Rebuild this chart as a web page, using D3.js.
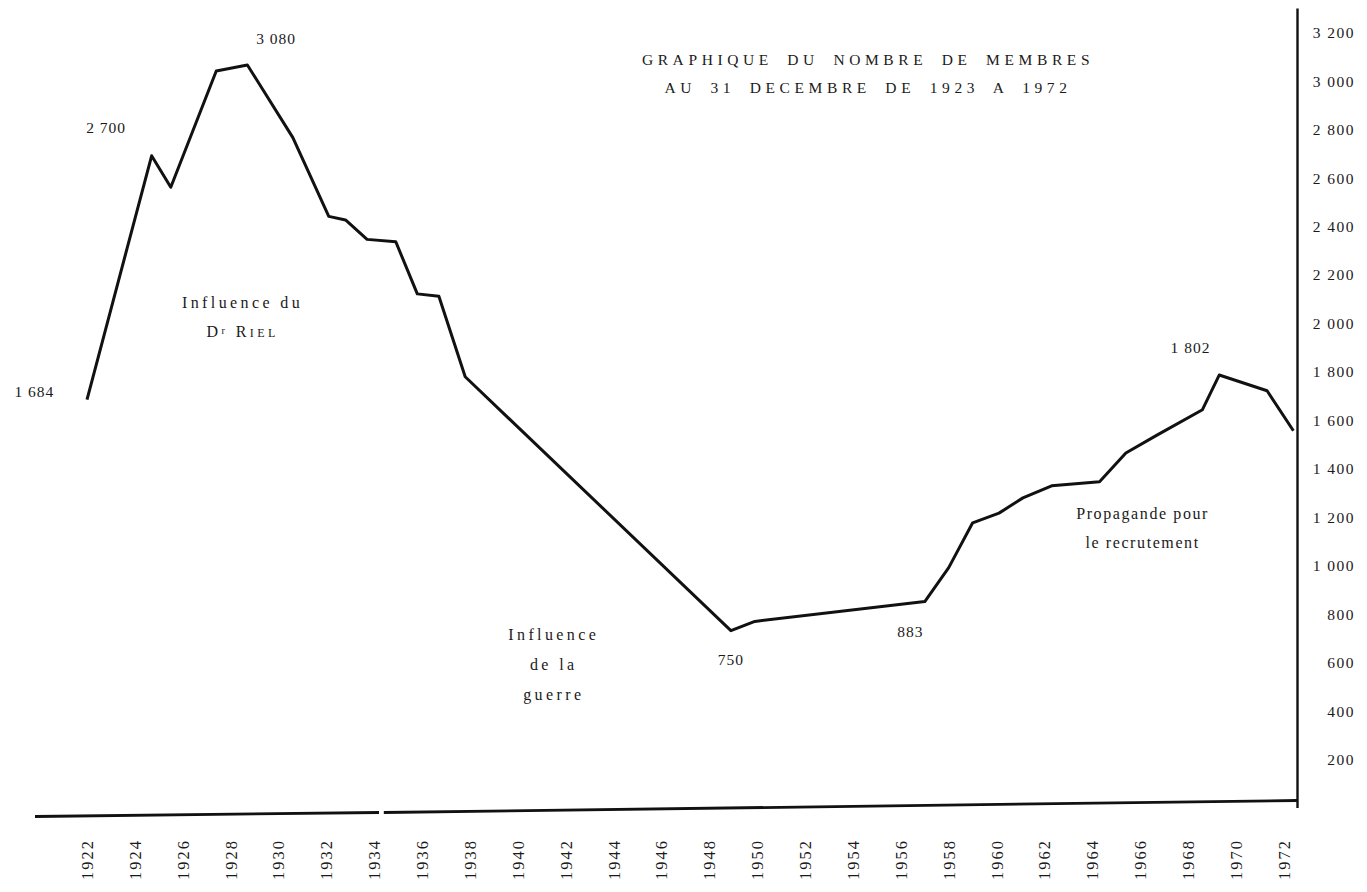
<!DOCTYPE html>
<html lang="fr">
<head>
<meta charset="utf-8">
<title>Graphique du nombre de membres 1923-1972</title>
<script src="https://d3js.org/d3.v7.min.js"></script>
<style>
  html, body { margin: 0; padding: 0; background: #fff; }
  svg { display: block; }
  text { font-family: "Liberation Serif", "DejaVu Serif", serif; fill: #1a1a1a; }
  .tick-y { font-size: 15.5px; letter-spacing: 1.5px; }
  .tick-x { font-size: 16.5px; letter-spacing: 2px; }
  .title { font-size: 15.5px; letter-spacing: 4.6px; word-spacing: 6px; }
  .note { font-size: 16px; letter-spacing: 1.6px; }
  .note.wide { letter-spacing: 3.4px; }
  .val { font-size: 15.5px; letter-spacing: 1px; }
</style>
</head>
<body>
<script>
// years (points are plotted between the year ticks)
var years = [1922.0, 1924.7, 1925.5, 1927.4, 1928.7, 1930.6, 1932.1, 1932.8, 1933.7, 1934.9,
             1935.8, 1936.7, 1937.8, 1948.9, 1949.9, 1957.0, 1958.0, 1959.0, 1960.1, 1961.1,
             1962.3, 1964.3, 1965.4, 1966.7, 1968.6, 1969.3, 1971.3, 1972.4];
// members at 31 December
var members = [1684, 2690, 2560, 3040, 3065, 2765, 2440, 2425, 2345, 2335,
               2120, 2110, 1778, 730, 768, 850, 990, 1175, 1215, 1278,
               1328, 1345, 1463, 1537, 1642, 1785, 1720, 1555];

var xTicks = [1922, 1924, 1926, 1928, 1930, 1932, 1934, 1936, 1938, 1940, 1942, 1944, 1946,
              1948, 1950, 1952, 1954, 1956, 1958, 1960, 1962, 1964, 1966, 1968, 1970, 1972];
var yTicks = [200, 400, 600, 800, 1000, 1200, 1400, 1600, 1800, 2000, 2200, 2400, 2600, 2800, 3000, 3200];

// labelled values on the curve
var valueLabels = [
  {year: 1919.8, value: 1684, txt: '1 684', dy: -3},
  {year: 1922.8, value: 2700, txt: '2 700', dy: -20},
  {year: 1929.9, value: 3080, txt: '3 080', dy: -17},
  {year: 1948.9, value: 750,  txt: '750',  dy: 39},
  {year: 1956.4, value: 883,  txt: '883',  dy: 43},
  {year: 1968.1, value: 1802, txt: '1 802', dy: -18}
];
var notes = [
  {year: 1928.5, value: 2060, lines: ['Influence du', null]},
  {year: 1941.5, value: 690,  lines: ['Influence', 'de la', 'guerre']},
  {year: 1966.1, value: 1190, lines: ['Propagande pour', 'le recrutement']}
];
var titleLines = ['GRAPHIQUE DU NOMBRE DE MEMBRES', 'AU 31 DECEMBRE DE 1923 A 1972'];

var W = 1367, H = 892;
var svg = d3.select('body').append('svg').attr('width', W).attr('height', H);

var x = d3.scaleLinear().domain([1922, 1972.55]).range([87, 1297]);
var y = d3.scaleLinear().domain([0, 3300]).range([807.5, 8]);

var fr = d3.formatLocale({decimal: ',', thousands: ' ', grouping: [3], currency: ['', '']});
var fmt = fr.format(',d');

// right axis
var yAxis = d3.axisRight(y).tickValues(yTicks).tickSize(0).tickFormat(fmt);
var gy = svg.append('g').attr('transform', 'translate(' + x.range()[1] + ',0)').call(yAxis);
gy.attr('font-family', null).attr('font-size', null);
gy.select('.domain').attr('stroke', '#111').attr('stroke-width', 2.4);
gy.selectAll('text')
  .attr('class', 'tick-y')
  .attr('x', 58)
  .attr('text-anchor', 'end')
  .attr('dy', '0.35em');

// bottom base line (drawn in two pieces like the original)
var base = svg.append('g').attr('stroke', '#111').attr('stroke-width', 2.8).attr('fill', 'none');
base.append('line').attr('x1', 35).attr('x2', x(1934.2)).attr('y1', y(0) + 9).attr('y2', y(0) + 5);
base.append('line').attr('x1', x(1934.4)).attr('x2', x.range()[1]).attr('y1', y(0) + 5).attr('y2', y(0) - 7);

// x tick labels, vertical
svg.append('g').selectAll('text')
  .data(xTicks)
  .enter()
  .append('text')
  .attr('class', 'tick-x')
  .attr('transform', function(d) { return 'translate(' + (x(d) + 6) + ',880) rotate(-90)'; })
  .attr('text-anchor', 'start')
  .text(function(d) { return d; });

// the curve
var line = d3.line()
  .x(function(d, i) { return x(years[i]); })
  .y(function(d) { return y(d); });

svg.append('path')
  .datum(members)
  .attr('d', line)
  .attr('fill', 'none')
  .attr('stroke', '#111')
  .attr('stroke-width', 3)
  .attr('stroke-linejoin', 'round');

// value labels
svg.append('g').selectAll('text')
  .data(valueLabels)
  .enter()
  .append('text')
  .attr('class', 'val')
  .attr('text-anchor', 'middle')
  .attr('x', function(d) { return x(d.year); })
  .attr('y', function(d) { return y(d.value) + d.dy; })
  .text(function(d) { return d.txt; });

// notes
notes.forEach(function(n, k) {
  var t = svg.append('text')
    .attr('class', k < 2 ? 'note wide' : 'note')
    .attr('text-anchor', 'middle')
    .attr('x', x(n.year))
    .attr('y', y(n.value));
  n.lines.forEach(function(l, i) {
    var ts = t.append('tspan').attr('x', x(n.year)).attr('dy', i === 0 ? 0 : (k === 1 ? 30 : 29));
    if (l === null) {
      // Dr Riel in small capitals
      ts.append('tspan').text('D');
      ts.append('tspan').attr('font-size', 10).attr('baseline-shift', '35%').text('r');
      ts.append('tspan').text(' R');
      ts.append('tspan').attr('font-size', 12).text('IEL');
    } else {
      ts.text(l);
    }
  });
});

// title
svg.append('g').selectAll('text')
  .data(titleLines)
  .enter()
  .append('text')
  .attr('class', 'title')
  .attr('text-anchor', 'middle')
  .attr('x', 868)
  .attr('y', function(d, i) { return 65 + i * 28; })
  .text(function(d) { return d; });
</script>
</body>
</html>
